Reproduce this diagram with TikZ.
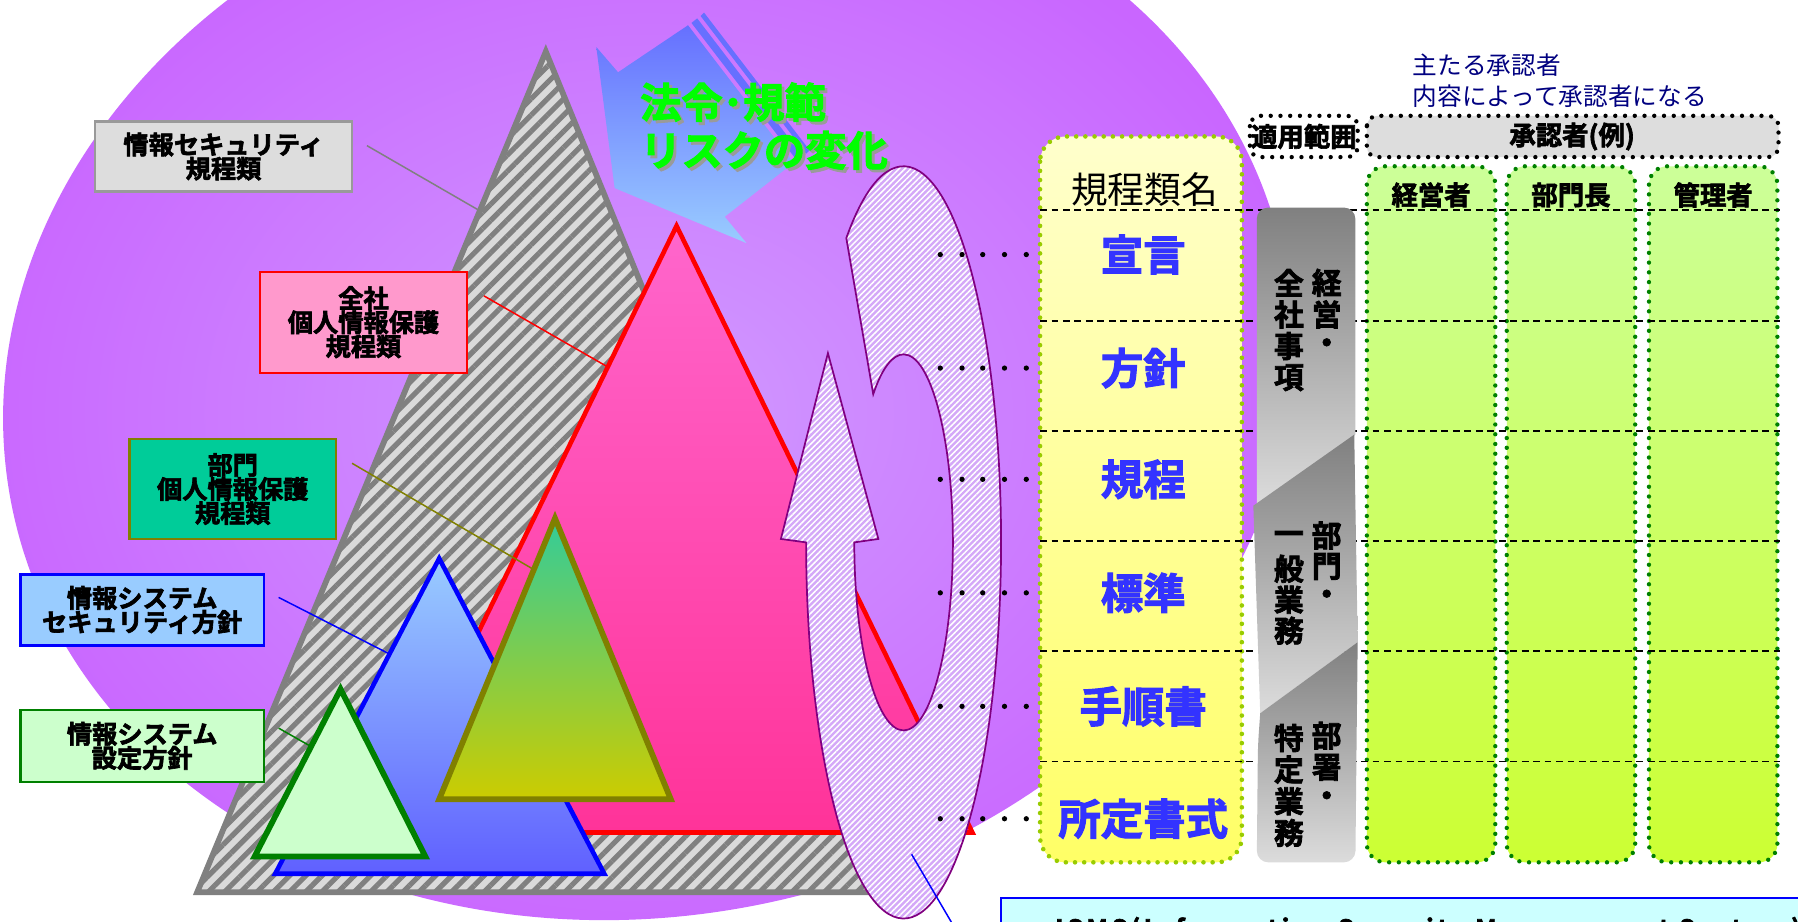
\documentclass[tikz,border=0pt]{standalone}
\usepackage{fontspec}
\setmainfont{Noto Sans CJK JP}[BoldFont={Noto Sans CJK JP Bold},BoldFeatures={FakeBold=2.5}]
\usetikzlibrary{positioning}
\usetikzlibrary{patterns.meta}
\usetikzlibrary{shadings}

\definecolor{violetdeep}{HTML}{C966FF}
\definecolor{violetlight}{HTML}{D09AFF}
\definecolor{hatchgray}{HTML}{808080}
\definecolor{hatchpale}{HTML}{DADADA}
\definecolor{pinktop}{HTML}{FF66CC}
\definecolor{pinkbottom}{HTML}{FF3399}
\definecolor{skytop}{HTML}{99CCFF}
\definecolor{skybottom}{HTML}{6060FF}
\definecolor{tealtop}{HTML}{33CC99}
\definecolor{olivebottom}{HTML}{CCCC00}
\definecolor{olivedge}{HTML}{808000}
\definecolor{paleleaf}{HTML}{CCFFCC}
\definecolor{leafedge}{HTML}{008000}
\definecolor{arrowtop}{HTML}{6670FF}
\definecolor{arrowbottom}{HTML}{99CCFF}
\definecolor{lawgreen}{HTML}{00FF00}
\definecolor{shadowgray}{HTML}{9A9A9A}
\definecolor{ringfill}{HTML}{D4A8F8}
\definecolor{ringedge}{HTML}{800080}
\definecolor{creamtop}{HTML}{FFFFCC}
\definecolor{creambottom}{HTML}{FFFF66}
\definecolor{limeedge}{HTML}{99CC00}
\definecolor{limetop}{HTML}{CCFF99}
\definecolor{limebottom}{HTML}{CCFF33}
\definecolor{rowblue}{HTML}{3333FF}
\definecolor{navytext}{HTML}{000080}
\definecolor{headgray}{HTML}{DDDDDD}
\definecolor{bardark}{HTML}{808080}
\definecolor{barlight}{HTML}{DCDCDC}
\definecolor{ismsfill}{HTML}{CCFFFF}
\definecolor{tagpink}{HTML}{FF99CC}
\definecolor{tagteal}{HTML}{00CC99}
\definecolor{tagsky}{HTML}{99CCFF}

\tikzstyle{tagbox}=[draw,line width=2pt,align=center,inner sep=0pt,font=\fontsize{22}{21}\selectfont\bfseries]
\tikzstyle{tagline}=[draw,line width=1.3pt]
\tikzstyle{hatchtri}=[draw=hatchgray,line width=5pt,preaction={fill=hatchpale},pattern={Lines[angle=45,distance=10pt,line width=4.5pt]},pattern color=hatchgray]
\tikzstyle{redtri}=[draw=red,line width=4pt,top color=pinktop,bottom color=pinkbottom]
\tikzstyle{bluetri}=[draw=blue,line width=4pt,top color=skytop,bottom color=skybottom]
\tikzstyle{olivetri}=[draw=olivedge,line width=5pt,top color=tealtop,bottom color=olivebottom]
\tikzstyle{leaftri}=[draw=leafedge,line width=5pt,fill=paleleaf]
\tikzstyle{cyclearrow}=[draw=ringedge,line width=1.5pt,preaction={fill=ringfill},pattern={Lines[angle=45,distance=3.6pt,line width=1.3pt]},pattern color=white]
\tikzstyle{lawtext}=[text=lawgreen,inner sep=0pt,font=\fontsize{36}{36}\selectfont\bfseries]
\tikzstyle{lawshade}=[text=shadowgray,inner sep=0pt,font=\fontsize{36}{36}\selectfont\bfseries]
\tikzstyle{namecolumn}=[draw=limeedge,line width=4pt,dash pattern=on 0pt off 8pt,line cap=round,rounded corners=22pt,top color=creamtop,bottom color=creambottom]
\tikzstyle{approvercol}=[draw=leafedge,line width=3.8pt,dash pattern=on 0pt off 8.5pt,line cap=round,rounded corners=16pt,top color=limetop,bottom color=limebottom]
\tikzstyle{headbox}=[draw=black,line width=3.8pt,dash pattern=on 0pt off 8.5pt,line cap=round,rounded corners=9pt]
\tikzstyle{rowrule}=[draw,line width=1.5pt,dash pattern=on 6pt off 4pt]
\tikzstyle{barpiece}=[top color=bardark,bottom color=barlight]
\tikzstyle{barchar}=[inner sep=0pt,font=\fontsize{26}{26}\selectfont\bfseries]
\tikzstyle{rowname}=[text=rowblue,font=\fontsize{37}{37}\selectfont\bfseries]
\tikzstyle{colhead}=[font=\fontsize{32}{32}\selectfont]
\tikzstyle{headtext}=[inner sep=0pt,font=\fontsize{23}{23}\selectfont\bfseries]
\tikzstyle{notetext}=[text=navytext,inner sep=0pt,font=\fontsize{21.5}{21.5}\selectfont]
\tikzstyle{ismsframe}=[draw=blue,line width=2pt,fill=ismsfill]
\tikzstyle{ismstext}=[inner sep=0pt,font=\fontsize{22}{22}\selectfont\bfseries\addfontfeature{LetterSpace=14}]

\begin{document}
\begin{tikzpicture}[x=1pt,y=-1pt]
    \useasboundingbox (0,0) rectangle (1568,804);
    \clip (0,0) rectangle (1568,804);
    \fill[white] (0,0) rectangle (1568,804);

    % purple backdrop, tilted a little
    \shade[inner color=violetlight,outer color=violetdeep,rotate around={10:(565,334)}] (565,334) ellipse [x radius=565, y radius=465];

    % striped arrow for outside changes
    \shade[top color=arrowtop,bottom color=arrowbottom] (520,41) -- (536,164) -- (651,212) -- (632,189) -- (692,142) -- (600,22) -- (539,63) -- cycle;
    \fill[arrowtop] (603,20) -- (695,140) -- (700,136) -- (608,16) -- cycle;
    \fill[arrowtop] (611,14) -- (703,134) -- (706,131) -- (614,11) -- cycle;
    \foreach \pos/\name/\label in {{(558,89)/lawA/法令･規範}, {(558,131)/lawB/リスクの変化}} {
        \node[lawshade,anchor=west,xshift=2.5pt,yshift=-2.5pt] (\name-shade) at \pos {\label};
        \node[lawtext,anchor=west] (\name) at \pos {\label};
    }

    % rule pyramids
    \draw[hatchtri] (476,45) -- (776,778) -- (172,778) -- cycle;
    \draw[redtri] (590,197) -- (848,726) -- (332,726) -- cycle;
    \draw[bluetri] (383,487) -- (527,762) -- (240,762) -- cycle;
    \draw[olivetri] (484,452) -- (585,697) -- (383,697) -- cycle;
    \draw[leaftri] (297,601) -- (371,747) -- (222,747) -- cycle;

    % review cycle
    \coordinate (ringhub) at (788,473);
    \draw[cyclearrow] ([shift={(-126:85 and 328)}]ringhub) arc[start angle=-126, end angle=180, x radius=85, y radius=328]
        -- (681,470) -- (722,308) -- (766,470)
        -- ([shift={(180:43 and 164)}]ringhub) arc[start angle=180, end angle=-128, x radius=43, y radius=164] -- cycle;

    % labels of the pyramids
    \node[tagbox,fill=headgray,draw=gray!80,minimum width=224pt,minimum height=61pt] (secrules) at (195,136.5) {情報セキュリティ\\規程類};
    \node[tagbox,fill=tagpink,draw=red,minimum width=180pt,minimum height=88pt] (corprules) at (317,281) {全社\\個人情報保護\\規程類};
    \node[tagbox,fill=tagteal,draw=olivedge,minimum width=180pt,minimum height=87pt] (deptrules) at (203,426.5) {部門\\個人情報保護\\規程類};
    \node[tagbox,fill=tagsky,draw=blue,minimum width=212pt,minimum height=62pt] (syssec) at (124,532) {情報システム\\セキュリティ方針};
    \node[tagbox,fill=paleleaf,draw=leafedge,minimum width=212pt,minimum height=63pt] (sysconf) at (124,650.5) {情報システム\\設定方針};

    \coordinate (secrules-a) at (320,127);   \coordinate (secrules-b) at (417,183);
    \coordinate (corprules-a) at (422,258);  \coordinate (corprules-b) at (530,320);
    \coordinate (deptrules-a) at (307,404);  \coordinate (deptrules-b) at (466,497);
    \coordinate (syssec-a) at (243,521);     \coordinate (syssec-b) at (339,570);
    \coordinate (sysconf-a) at (243,635);    \coordinate (sysconf-b) at (273,652);
    \coordinate (ring-a) at (795,745);       \coordinate (ring-b) at (836,815);
    \foreach \source/\dest/\col in {secrules-a/secrules-b/gray, corprules-a/corprules-b/red, deptrules-a/deptrules-b/olivedge, syssec-a/syssec-b/blue, sysconf-a/sysconf-b/leafedge, ring-a/ring-b/blue}
        \path[tagline,draw=\col] (\source) -- (\dest);

    % leader dots
    \foreach \y in {222,321,418,517,616,714}
        \foreach \x in {820,839,857,876,895}
            \fill (\x,\y) circle (2.3);

    % table of rule levels
    \draw[namecolumn] (907,119) rectangle (1083,752);
    \node[colhead] (colname) at (998,165) {規程類名};
    \foreach \x/\name/\label in {1192/ceo/経営者, 1314/divhead/部門長, 1438/manager/管理者} {
        \draw[approvercol] (\x,145) rectangle ++(112,607);
        \node[headtext] (\name) at (\x+56,170) {\label};
    }
    \draw[headbox] (1090,101) rectangle (1184,137);
    \node[headtext] (scope) at (1137,119) {適用範囲};
    \draw[headbox,fill=headgray] (1192,101) rectangle (1551,137);
    \node[headtext] (approver) at (1371,119) {承認者(例)};
    \node[notetext,anchor=west] (noteA) at (1232,57) {主たる承認者};
    \node[notetext,anchor=west] (noteB) at (1232,84) {内容によって承認者になる};

    \foreach \y in {183,280,376,472,568,664}
        \draw[rowrule] (907,\y) -- (1552,\y);

    % scope bar
    \shade[barpiece] (1096,441) -- (1096,300) [rounded corners=10pt] -- (1096,181) -- (1182,181) -- (1182,300) [sharp corners] -- (1182,379) -- cycle;
    \shade[barpiece] (1093,441) -- (1181,379) -- (1184,560) -- (1099,622) -- cycle;
    \shade[barpiece] (1099,622) -- (1184,560) -- (1183,650) [rounded corners=10pt] -- (1182,752) -- (1096,752) -- (1097,650) [sharp corners] -- cycle;
    \foreach \c [count=\i] in {経,営,・} \node[barchar] (topR\i) at (1157,219+27.6*\i) {\c};
    \foreach \c [count=\i] in {全,社,事,項} \node[barchar] (topL\i) at (1124,219+27.6*\i) {\c};
    \foreach \c [count=\i] in {部,門,・} \node[barchar] (midR\i) at (1157,440+27*\i) {\c};
    \foreach \c [count=\i] in {一,般,業,務} \node[barchar] (midL\i) at (1124,442+27*\i) {\c};
    \foreach \c [count=\i] in {部,署,・} \node[barchar] (lowR\i) at (1157,614+27.6*\i) {\c};
    \foreach \c [count=\i] in {特,定,業,務} \node[barchar] (lowL\i) at (1124,616+27.6*\i) {\c};

    \foreach \pos/\name/\label in {{(997,222)/sengen/宣言}, {(997,321)/hoshin/方針}, {(997,418)/kitei/規程}, {(997,517)/hyojun/標準}, {(997,616)/tejun/手順書}, {(997,714)/shotei/所定書式}}
        \node[rowname] (\name) at \pos {\label};

    % ISMS note
    \draw[ismsframe] (873,783) rectangle (1600,900);
    \node[ismstext,anchor=base west] (isms) at (920,818) {ISMS(Information Security Management System)};
\end{tikzpicture}
\end{document}
